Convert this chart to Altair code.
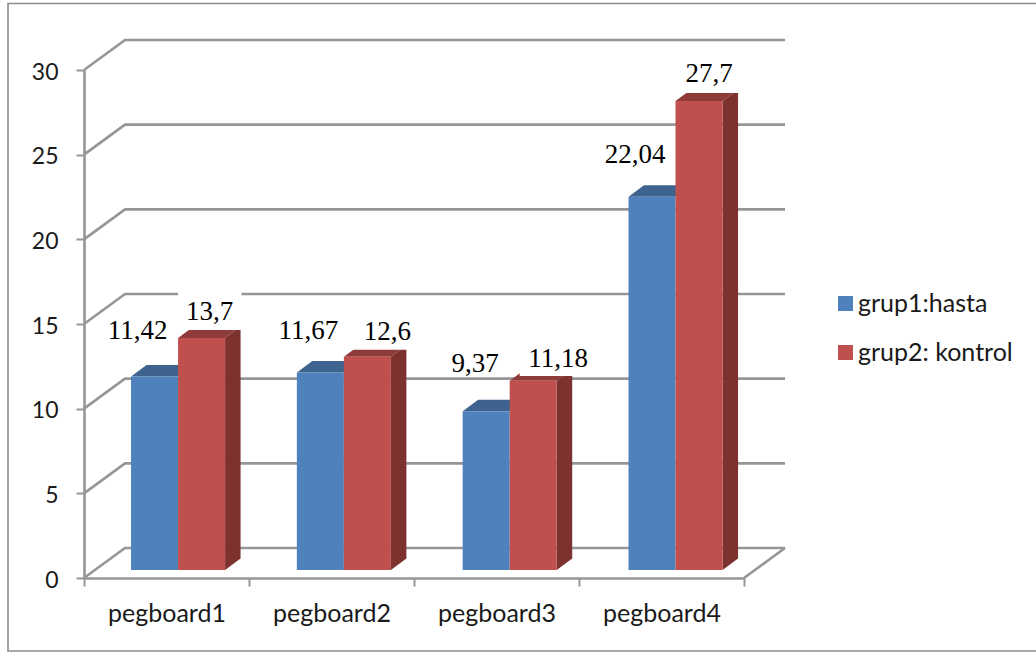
import altair as alt
import pandas as pd

categories = ["pegboard1", "pegboard2", "pegboard3", "pegboard4"]
series_names = ["grup1:hasta", "grup2: kontrol"]
hasta = [11.42, 11.67, 9.37, 22.04]
kontrol = [13.7, 12.6, 11.18, 27.7]
value_text_hasta = ["11,42", "11,67", "9,37", "22,04"]
value_text_kontrol = ["13,7", "12,6", "11,18", "27,7"]
y_ticks = [0, 5, 10, 15, 20, 25, 30]

# Pseudo-3D projection, expressed in the units of the x (category) and y (value) scales.
PX_X = 1 / 165
PX_Y = 30 / 508
WALL_DX, WALL_DY = 41 * PX_X, 30 * PX_Y
BAR_DX, BAR_DY = 15.5 * PX_X, 11.5 * PX_Y
BAR_LEFT, BAR_STEP, BAR_W, BAR_BASE = 0.285, 1.005, 0.285, 8 * PX_Y

BLUE, RED = "#4F81BD", "#C0504D"
BLUE_TOP, RED_TOP = "#3F638F", "#8F3B39"
RED_SIDE = "#7D3230"
GRID = "#969696"
FRAME = "#8C8C8C"
SANS = "Lato"
SERIF = "Liberation Serif"
INK = "#1A1A1A"

x_q = alt.Scale(domain=[0, 4], nice=False, zero=False)
y_q = alt.Scale(domain=[0, 30], nice=False, zero=False)
X = lambda f: alt.X(f, type="quantitative", scale=x_q, axis=None)
Y = lambda f: alt.Y(f, type="quantitative", scale=y_q, axis=None)

# Back wall and floor lines
wall = []
for v in y_ticks:
    g = f"w{v}"
    wall += [
        {"g": g, "o": 0, "x": 0, "y": v},
        {"g": g, "o": 1, "x": WALL_DX, "y": v + WALL_DY},
        {"g": g, "o": 2, "x": 4 + WALL_DX, "y": v + WALL_DY},
    ]
wall += [
    {"g": "floor", "o": 0, "x": 4, "y": 0},
    {"g": "floor", "o": 1, "x": 4 + WALL_DX, "y": WALL_DY},
]
wall_layer = (
    alt.Chart(pd.DataFrame(wall))
    .mark_line(color=GRID, strokeWidth=2.6, strokeJoin="miter")
    .encode(x=X("x"), y=Y("y"), detail="g:N", order="o:Q")
)

# Bar geometry
fronts, sides, tops = [], [], []
for i, cat in enumerate(categories):
    for k, (name, vals) in enumerate(zip(series_names, (hasta, kontrol))):
        v = vals[i]
        x0 = i * BAR_STEP + BAR_LEFT + k * BAR_W
        x1 = x0 + BAR_W
        lo, hi = BAR_BASE, BAR_BASE + v
        fronts.append({"series": name, "x0": x0, "x1": x1, "lo": lo, "hi": hi})
        tg = f"{i}-{k}"
        tops += [
            {"g": tg, "k": k, "y": hi, "xa": x0, "xb": x1},
            {"g": tg, "k": k, "y": hi + BAR_DY, "xa": x0 + BAR_DX, "xb": x1 + BAR_DX},
        ]
        if k == 1:
            sides += [
                {"g": tg, "x": x1, "lo": lo, "hi": hi},
                {"g": tg, "x": x1 + BAR_DX, "lo": lo + BAR_DY, "hi": hi + BAR_DY},
            ]

tops_df = pd.DataFrame(tops)


def top_faces(k, colour):
    return (
        alt.Chart(tops_df[tops_df["k"] == k])
        .mark_area(orient="horizontal", interpolate="linear", color=colour)
        .encode(y=Y("y"), x=X("xa"), x2="xb", detail="g:N")
    )


side_layer = (
    alt.Chart(pd.DataFrame(sides))
    .mark_area(color=RED_SIDE, interpolate="linear")
    .encode(x=X("x"), y=Y("lo"), y2="hi", detail="g:N")
)
front_layer = (
    alt.Chart(pd.DataFrame(fronts))
    .mark_rect()
    .encode(
        x=X("x0"),
        x2="x1",
        y=Y("lo"),
        y2="hi",
        color=alt.Color(
            "series:N",
            scale=alt.Scale(domain=series_names, range=[BLUE, RED]),
            legend=alt.Legend(
                title=None,
                orient="none",
                legendX=749,
                legendY=221,
                symbolType="square",
                symbolSize=225,
                symbolStrokeWidth=0,
                labelFont=SANS,
                labelFontSize=25,
                labelColor=INK,
                labelOffset=0,
                rowPadding=23,
                labelLimit=220,
            ),
        ),
    )
)

# Value labels, placed by hand around the top of each bar (offsets in pixels)
label_nudge_px = {
    "hasta": [(-17, 38), (-12, 33), (-11, 39), (-17, 34)],
    "kontrol": [(8, 18), (20, 17), (25, 14), (10, 19)],
}
# Distance from a red bar's top up to the opaque text box of its label
mask_gap_px = [8, 7, 4.7, 8]

label_rows, mask_rows = [], []
for key, vals, texts, k in (
    ("hasta", hasta, value_text_hasta, 0),
    ("kontrol", kontrol, value_text_kontrol, 1),
):
    for i, (v, t) in enumerate(zip(vals, texts)):
        left = i * BAR_STEP + BAR_LEFT + k * BAR_W
        ntop = BAR_BASE + v
        dx, dy = label_nudge_px[key][i]
        label_rows.append(
            {"x": left + BAR_W / 2 + dx * PX_X, "y": ntop + dy * PX_Y, "t": t}
        )
        if k == 1:
            shift = 10 * PX_X if i == 2 else 0
            mask_rows.append(
                {
                    "x0": left + shift,
                    "x1": left + BAR_W + BAR_DX + 1 * PX_X,
                    "y0": ntop + mask_gap_px[i] * PX_Y,
                    "y1": ntop + (mask_gap_px[i] + 38) * PX_Y,
                }
            )

mask_layer = (
    alt.Chart(pd.DataFrame(mask_rows))
    .mark_rect(color="white")
    .encode(x=X("x0"), x2="x1", y=Y("y0"), y2="y1")
)
label_layer = (
    alt.Chart(pd.DataFrame(label_rows))
    .mark_text(font=SERIF, fontSize=27, color="#000000", baseline="alphabetic", align="center")
    .encode(x=X("x"), y=Y("y"), text="t:N")
)

# Outer frame; its right edge runs off the canvas
frame_layer = (
    alt.Chart(alt.Data(values=[{}]))
    .mark_rect(fill=None, stroke=FRAME, strokeWidth=1.6)
    .encode(
        x=alt.value(-76),
        x2=alt.value(1000),
        y=alt.value(-66.5),
        y2=alt.value(581),
    )
)

# y axis along the front edge of the wall
y_axis_layer = (
    alt.Chart(pd.DataFrame({"v": y_ticks}))
    .mark_point(opacity=0)
    .encode(
        x=alt.value(0),
        y=alt.Y(
            "v:Q",
            scale=y_q,
            axis=alt.Axis(
                title=None,
                values=y_ticks,
                grid=False,
                domainColor=GRID,
                domainWidth=2.6,
                tickColor=GRID,
                tickWidth=2,
                tickSize=8,
                labelFont=SANS,
                labelFontSize=23,
                labelColor=INK,
                labelPadding=18,
                labelOffset=2,
            ),
        ),
    )
)

# Category axis: ticks at the band edges, names in the band centres
x_axis_layer = (
    alt.Chart(pd.DataFrame({"c": categories}))
    .mark_point(opacity=0)
    .encode(
        x=alt.X(
            "c:N",
            sort=categories,
            scale=alt.Scale(domain=categories, paddingInner=0, paddingOuter=0),
            axis=alt.Axis(
                title=None,
                labelAngle=0,
                tickBand="extent",
                domainColor=GRID,
                domainWidth=2.6,
                tickColor=GRID,
                tickWidth=2,
                tickSize=8,
                labelFont=SANS,
                labelFontSize=25,
                labelColor=INK,
                labelPadding=15,
            ),
        ),
        y=alt.value(0),
    )
)

chart = (
    alt.layer(
        frame_layer,
        wall_layer,
        y_axis_layer,
        x_axis_layer,
        top_faces(0, BLUE_TOP),
        top_faces(1, RED_TOP),
        side_layer,
        front_layer,
        mask_layer,
        label_layer,
    )
    .resolve_scale(x="independent", y="independent")
    .properties(
        width=660,
        height=508,
        padding={"left": 84, "top": 70, "right": 292, "bottom": 75},
        autosize=alt.AutoSizeParams(type="none"),
        background="white",
    )
    .configure_view(stroke=None)
)

chart.save("out.html", embed_options={"renderer": "svg", "actions": False})
